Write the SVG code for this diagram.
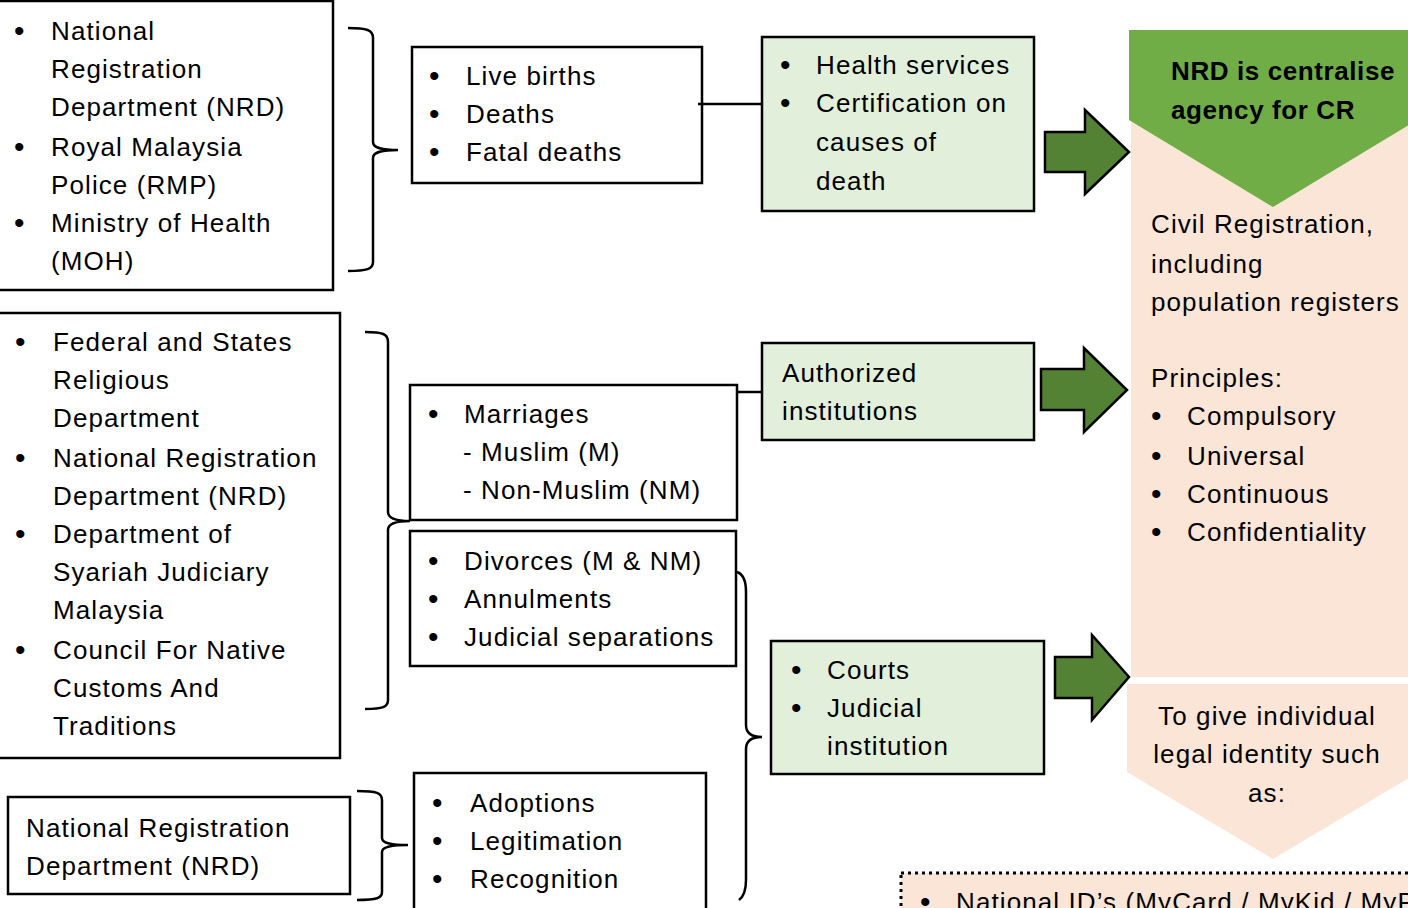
<svg xmlns="http://www.w3.org/2000/svg" width="1408" height="908" viewBox="0 0 1408 908">
<style>
text{font-family:"Liberation Sans",Arial,sans-serif;font-size:26px;letter-spacing:1.1px;fill:#000}
text.u{font-size:30px;letter-spacing:0}
.b{font-weight:bold;letter-spacing:0.6px}
.m{text-anchor:middle}
.box{fill:#fff;stroke:#000;stroke-width:2.5}
.gbox{fill:#e2efda;stroke:#000;stroke-width:2.5}
.arr{fill:#548235;stroke:#000;stroke-width:2.5;stroke-linejoin:miter}
.br{fill:none;stroke:#000;stroke-width:2.5}
</style>
<rect width="1408" height="908" fill="#fff"/>

<g id="nrd-panel">
<rect x="1131" y="30" width="282" height="647" fill="#fbe5d6"/>
<polygon points="1129,30 1417,30 1417,120 1273,207 1129,120" fill="#70ad47"/>
<text class="b" x="1171" y="80">NRD is centralise</text>
<text class="b" x="1171" y="119">agency for CR</text>
<text x="1151" y="233">Civil Registration,</text>
<text x="1151" y="273">including</text>
<text x="1151" y="311">population registers</text>
<text x="1151" y="387">Principles:</text>
<text class="u" x="1151" y="426">•</text><text x="1187" y="425">Compulsory</text>
<text class="u" x="1151" y="466">•</text><text x="1187" y="465">Universal</text>
<text class="u" x="1151" y="504">•</text><text x="1187" y="503">Continuous</text>
<text class="u" x="1151" y="542">•</text><text x="1187" y="541">Confidentiality</text>
</g>

<g id="legal-identity">
<polygon points="1127,684 1419,684 1419,772 1273,859 1127,772" fill="#fbe5d6"/>
<text class="m" x="1267" y="725">To give individual</text>
<text class="m" x="1267" y="763">legal identity such</text>
<text class="m" x="1267" y="802">as:</text>
</g>

<g id="national-id">
<rect x="901" y="873" width="520" height="60" fill="#fbe5d6" stroke="#000" stroke-width="3" stroke-dasharray="3 4"/>
<text class="u" x="920" y="912">•</text><text x="956" y="911">National ID’s (MyCard / MyKid / MyP</text>
</g>

<g id="agencies-1">
<rect class="box" x="-2" y="1" width="335" height="289"/>
<text class="u" x="14" y="41">•</text><text x="51" y="40">National</text>
<text x="51" y="78">Registration</text>
<text x="51" y="116">Department (NRD)</text>
<text class="u" x="14" y="157">•</text><text x="51" y="156">Royal Malaysia</text>
<text x="51" y="194">Police (RMP)</text>
<text class="u" x="14" y="233">•</text><text x="51" y="232">Ministry of Health</text>
<text x="51" y="270">(MOH)</text>
</g>

<g id="vital-events">
<rect class="box" x="412" y="47" width="290" height="136"/>
<text class="u" x="429" y="86">•</text><text x="466" y="85">Live births</text>
<text class="u" x="429" y="124">•</text><text x="466" y="123">Deaths</text>
<text class="u" x="429" y="162">•</text><text x="466" y="161">Fatal deaths</text>
</g>

<g id="health-services">
<rect class="gbox" x="762" y="37" width="272" height="174"/>
<text class="u" x="780" y="75">•</text><text x="816" y="74">Health services</text>
<text class="u" x="780" y="113">•</text><text x="816" y="112">Certification on</text>
<text x="816" y="151">causes of</text>
<text x="816" y="190">death</text>
</g>

<g id="agencies-2">
<rect class="box" x="-2" y="313" width="342" height="445"/>
<text class="u" x="15" y="352">•</text><text x="53" y="351">Federal and States</text>
<text x="53" y="389">Religious</text>
<text x="53" y="427">Department</text>
<text class="u" x="15" y="468">•</text><text x="53" y="467">National Registration</text>
<text x="53" y="505">Department (NRD)</text>
<text class="u" x="15" y="544">•</text><text x="53" y="543">Department of</text>
<text x="53" y="581">Syariah Judiciary</text>
<text x="53" y="619">Malaysia</text>
<text class="u" x="15" y="660">•</text><text x="53" y="659">Council For Native</text>
<text x="53" y="697">Customs And</text>
<text x="53" y="735">Traditions</text>
</g>

<g id="marriages">
<rect class="box" x="410" y="385" width="327" height="135"/>
<text class="u" x="428" y="424">•</text><text x="464" y="423">Marriages</text>
<text x="463" y="461">- Muslim (M)</text>
<text x="463" y="499">- Non-Muslim (NM)</text>
</g>

<g id="authorized">
<rect class="gbox" x="762" y="343" width="272" height="97"/>
<text x="782" y="382">Authorized</text>
<text x="782" y="420">institutions</text>
</g>

<g id="divorces">
<rect class="box" x="410" y="531" width="326" height="135"/>
<text class="u" x="428" y="571">•</text><text x="464" y="570">Divorces (M &amp; NM)</text>
<text class="u" x="428" y="609">•</text><text x="464" y="608">Annulments</text>
<text class="u" x="428" y="647">•</text><text x="464" y="646">Judicial separations</text>
</g>

<g id="courts">
<rect class="gbox" x="771" y="641" width="273" height="133"/>
<text class="u" x="791" y="680">•</text><text x="827" y="679">Courts</text>
<text class="u" x="791" y="718">•</text><text x="827" y="717">Judicial</text>
<text x="827" y="755">institution</text>
</g>

<g id="agency-3">
<rect class="box" x="8" y="797" width="342" height="97"/>
<text x="26" y="837">National Registration</text>
<text x="26" y="875">Department (NRD)</text>
</g>

<g id="adoptions">
<rect class="box" x="414" y="773" width="292" height="150"/>
<text class="u" x="432" y="813">•</text><text x="470" y="812">Adoptions</text>
<text class="u" x="432" y="851">•</text><text x="470" y="850">Legitimation</text>
<text class="u" x="432" y="889">•</text><text x="470" y="888">Recognition</text>
</g>

<g id="connectors">
<path class="br" d="M348,28 C367,28 373,30 373,38 L373,142 C373,147 378,150 398,150 C378,150 373,153 373,158 L373,262 C373,269 367,271 348,271"/>
<path class="br" d="M365,332 C383,332 388,334 388,342 L388,512 C388,518 395,521 410,521 C395,521 388,524 388,530 L388,700 C388,707 383,709 365,709"/>
<path class="br" d="M737,572 C743,574 746,580 746,592 L746,725 C746,733 752,737 762,737 C752,737 746,741 746,749 L746,880 C746,892 743,897 739,900"/>
<path class="br" d="M357,791 C377,791 382,793 382,800 L382,838 C382,843 390,845 408,845 C390,845 382,847 382,852 L382,892 C382,898 377,900 357,900"/>
<line class="br" x1="698" y1="104" x2="762" y2="104"/>
<line class="br" x1="737" y1="392" x2="762" y2="392"/>
<polygon class="arr" points="1045,132 1085,132 1085,110 1129,152 1085,194 1085,172 1045,172"/>
<polygon class="arr" points="1041,369 1084,369 1084,348 1127,390 1084,432 1084,410 1041,410"/>
<polygon class="arr" points="1055,657 1092,657 1092,635 1129,677 1092,720 1092,698 1055,698"/>
</g>
</svg>
